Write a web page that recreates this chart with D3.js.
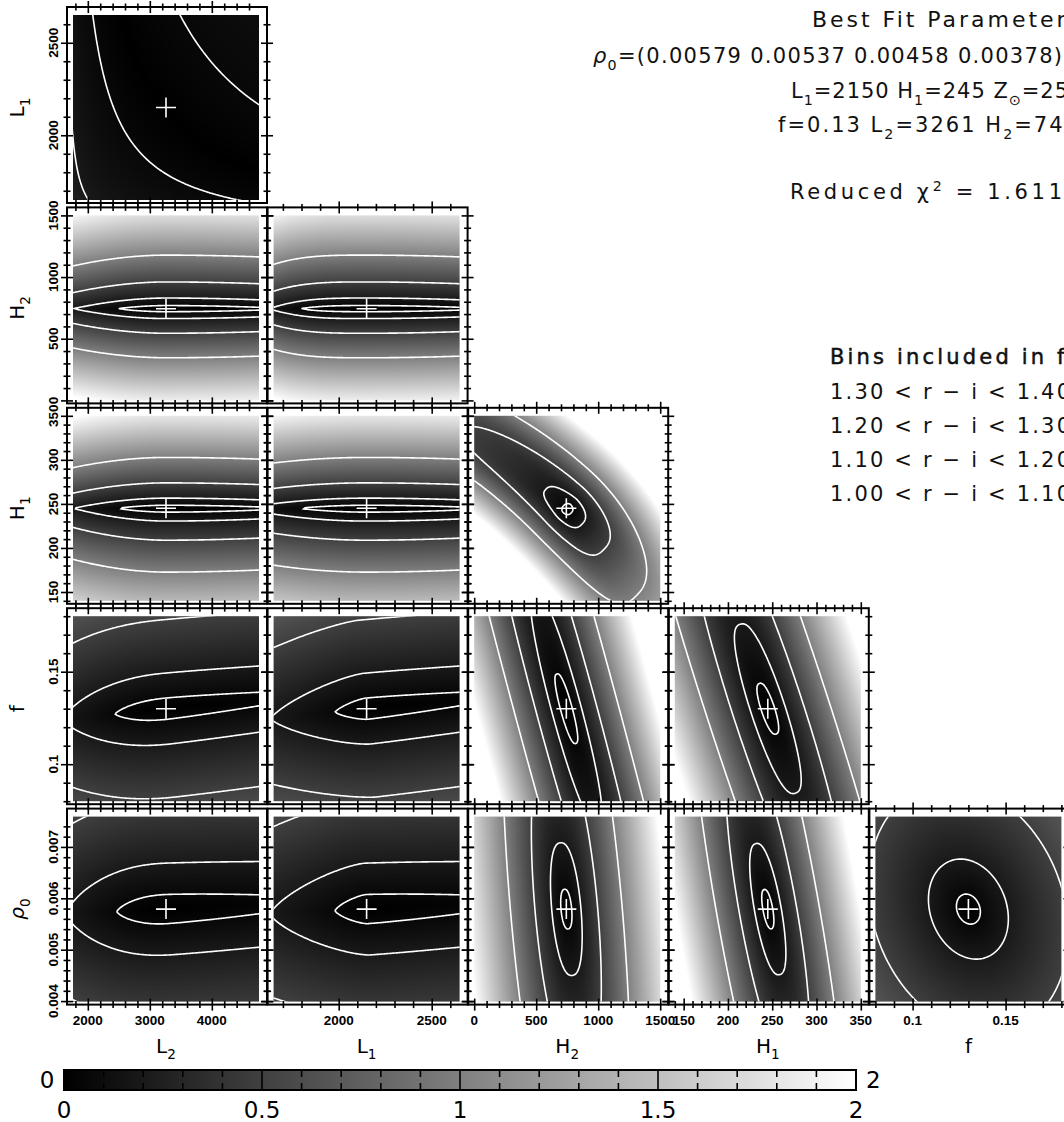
<!DOCTYPE html>
<html>
<head>
<meta charset="utf-8">
<script src="https://cdn.jsdelivr.net/npm/d3@7"></script>
<style>
  body { margin: 0; background: #fff; }
  svg { display: block; }
</style>
</head>
<body>
<script>
// ---------------------------------------------------------------
// Fit parameters (order: L2, L1, H2, H1, f, rho0)
// ---------------------------------------------------------------
const paramBest     = [3261, 2150, 743, 245, 0.13, 0.00579];
const paramHalfSpan = [1500, 500, 750, 105, 0.05, 0.0018];
const paramLo       = [1761, 1650, 0, 140, 0.08, 0.00399];
const paramHi       = [4761, 2650, 1500, 350, 0.18, 0.00759];
const paramMajor    = [1000, 500, 500, 50, 0.05, 0.001];
const paramLabel    = [["L", "2"], ["L", "1"], ["H", "2"], ["H", "1"], ["f", ""], ["\u03c1", "0"]];

// grid columns use params 0..4 on x, rows use params 1..5 on y
const columnParams = [0, 1, 2, 3, 4];
const rowParams    = [1, 2, 3, 4, 5];

// contour levels drawn on every surface
const contourLevels = [0.06, 0.2, 0.5, 1.0];

// L1-L2 panel: valley along (L2 - a)(L1 - b) = const
// row, col, alpha, beta, s0, sigma, q
const valleyShape = [0, 0, 1.1, 1.4, 0.406, 15.8, 0.9];

// Other panels:
// row, col, theta(deg), b0, lambda, kappa, sA+, sA-, qA+, qA-, sB+, sB-, qB, w1, w2, m
const panelShapes = [
  [1, 0,   0, 0, 0, 0, 6.0, 2.33, 1.9, 1.9, 0.58, 0.53, 1, 0, 0, 1],
  [1, 1,   0, 0, 0, 0, 6.0, 1.73, 1.9, 3.2, 0.58, 0.53, 1, 0, 0, 1],
  [2, 0,   0, 0, 0, 0, 6.0, 2.33, 1.9, 1.9, 0.55, 0.69, 1, 0, 0, 1],
  [2, 1,   0, 0, 0, 0, 6.0, 3.02, 1.9, 2.0, 0.55, 0.69, 1, 0, 0, 1],
  [2, 2, 135, 0, 0, 0.1, 4.4, 1.2, 0.6, 1, 0.43, 0.47, 1.39, 0, 0, 2],
  [3, 0,   6, 0, 0, 0, 31, 2.88, 1, 1.7, 1.92, 1.92, 1, 0, 0, 1.3],
  [3, 1,   6, 0, 0, 0, 31, 4.6, 1, 1.08, 1.92, 1.92, 1, 0, 0, 1.3],
  [3, 2, -75, 0, 0, 0, 6.5, 6.5, 1, 1, 0.55, 0.55, 1.3, 0, 0, 2],
  [3, 3, -72, 0, 0, 0, 4.8, 4.8, 1, 1, 0.65, 0.65, 1.28, 0, 0, 2],
  [4, 0,   3, 0, 0, 0, 31, 2.77, 1, 1.7, 2.3, 2.3, 1.05, 0, 0, 1.3],
  [4, 1,   3, 0, 0, 0, 31, 4.6, 1, 1.08, 2.3, 2.3, 1.05, 0, 0, 1.3],
  [4, 2, -85, 0, 0, 0, 3.6, 3.6, 1, 1, 0.6, 0.6, 1.2, 0, 0, 2],
  [4, 3, -80, 0, 0, 0, 3.6, 3.6, 1, 1, 0.55, 0.55, 1.2, 0, 0, 2],
  [4, 4, -70, 0, 0, 0, 2.78, 2.78, 1, 1, 2.05, 2.05, 1, 0, 0, 2]
];

// text block on the right
const rho0Bins    = ["0.00579", "0.00537", "0.00458", "0.00378"];
const binLower    = ["1.30", "1.20", "1.10", "1.00"];
const binUpper    = ["1.40", "1.30", "1.20", "1.10"];
const reducedChi2 = "1.611";
const zSun = 25;

// colour bar
const colorbarDomain = [0, 2];
const colorbarLabels = [0, 0.5, 1, 1.5, 2];

// ---------------------------------------------------------------
// Layout
// ---------------------------------------------------------------
const W = 1064, H = 1122;
const colX0 = 67, colPitch = 200.6, frameW = 200;
const rowY0 = 7, rowPitch = 200.4, frameH = 196;
const inset = { left: 6, right: 8, top: 8, bottom: 3 };

const svg = d3.select("body").append("svg")
  .attr("width", W).attr("height", H)
  .attr("viewBox", `0 0 ${W} ${H}`);
svg.append("rect").attr("width", W).attr("height", H).attr("fill", "#fff");
const defs = svg.append("defs");

const gray = d3.scaleLinear().domain(colorbarDomain).range([0, 255]).clamp(true);

function frameBox(r, c) {
  const fx = colX0 + c * colPitch, fy = rowY0 + r * rowPitch;
  return {
    fx, fy, fw: frameW, fh: frameH,
    ix: fx + inset.left, iy: fy + inset.top,
    iw: frameW - inset.left - inset.right, ih: frameH - inset.top - inset.bottom
  };
}
function paramScale(p, r0, r1) {
  return d3.scaleLinear().domain([paramLo[p], paramHi[p]]).range([r0, r1]);
}
function tickValues(p) {
  const lo = paramLo[p], hi = paramHi[p];
  const minor = paramMajor[p] / 5;
  const out = [];
  const k0 = Math.ceil(lo / minor - 1e-6), k1 = Math.floor(hi / minor + 1e-6);
  for (let k = k0; k <= k1; k++) out.push({ v: +(k * minor).toPrecision(8), major: ((k % 5) + 5) % 5 === 0 });
  return out;
}
function fmt(v) { return String(+v.toPrecision(6)); }

// surface models evaluated in normalised coordinates (u along x, w along y)
function valleySurface(s, u, w) {
  const X = Math.max(1e-3, u + s.alpha), Y = Math.max(1e-3, w + s.beta);
  const d = Math.log(X) + Math.log(Y) - s.s0;
  return Math.min(Math.pow(Math.abs(d) / s.sigma, s.q), 2.5);
}
function surface(s, u, w) {
  const th = s.theta * Math.PI / 180;
  const a = u * Math.cos(th) + w * Math.sin(th);
  let b = -u * Math.sin(th) + w * Math.cos(th);
  b = b - s.b0 - s.lambda * a - s.kappa * a * a;
  const va = a >= 0 ? Math.pow(a / s.sAp, s.qAp) : Math.pow(-a / s.sAm, s.qAm);
  const widen = Math.max(0.2, 1 + s.w1 * a + s.w2 * a * a);
  const sb = (b >= 0 ? s.sBp : s.sBm) * widen;
  const vb = Math.pow(Math.abs(b) / sb, s.qB);
  const v = Math.pow(Math.pow(va, s.m) + Math.pow(vb, s.m), 1 / s.m);
  return Math.min(v, 2.5);
}

// rich text helper: parts = [[text, mode, style]] with mode "", "sub", "sup"
function richText(sel, parts, size) {
  let shift = 0;
  parts.forEach(([t, mode, style]) => {
    const target = mode === "sub" ? 0.32 * size : mode === "sup" ? -0.38 * size : 0;
    const ts = sel.append("tspan").text(t).attr("dy", target - shift);
    if (mode) ts.attr("font-size", size * 0.68);
    if (style) ts.attr("font-style", style);
    shift = target;
  });
  return sel;
}

// ---------------------------------------------------------------
// Panels
// ---------------------------------------------------------------
const N = 150, PAD = 4, NG = N + 2 * PAD;
const panelLayer = svg.append("g");

const panels = [{
  r: valleyShape[0], c: valleyShape[1], kind: "valley",
  alpha: valleyShape[2], beta: valleyShape[3], s0: valleyShape[4], sigma: valleyShape[5], q: valleyShape[6]
}].concat(panelShapes.map(row => ({
  r: row[0], c: row[1], kind: "ridge", theta: row[2], b0: row[3], lambda: row[4], kappa: row[5],
  sAp: row[6], sAm: row[7], qAp: row[8], qAm: row[9],
  sBp: row[10], sBm: row[11], qB: row[12], w1: row[13], w2: row[14], m: row[15]
})));

panels.forEach((s, idx) => {
  const px = columnParams[s.c], py = rowParams[s.r];
  const box = frameBox(s.r, s.c);
  const xs = paramScale(px, box.ix, box.ix + box.iw);
  const ys = paramScale(py, box.iy + box.ih, box.iy);
  const cw = box.iw / N, ch = box.ih / N;
  const fn = s.kind === "valley" ? valleySurface : surface;

  // sample the surface on a padded grid
  const values = new Float64Array(NG * NG);
  for (let j = 0; j < NG; j++) {
    const yv = ys.invert(box.iy + (j - PAD + 0.5) * ch);
    const w = (yv - paramBest[py]) / paramHalfSpan[py];
    for (let i = 0; i < NG; i++) {
      const xv = xs.invert(box.ix + (i - PAD + 0.5) * cw);
      const u = (xv - paramBest[px]) / paramHalfSpan[px];
      values[j * NG + i] = fn(s, u, w);
    }
  }

  // greyscale raster
  const cv = document.createElement("canvas");
  cv.width = N; cv.height = N;
  const ctx = cv.getContext("2d");
  const img = ctx.createImageData(N, N);
  for (let j = 0; j < N; j++) for (let i = 0; i < N; i++) {
    const g = Math.round(gray(values[(j + PAD) * NG + i + PAD]));
    const k = (j * N + i) * 4;
    img.data[k] = img.data[k + 1] = img.data[k + 2] = g; img.data[k + 3] = 255;
  }
  ctx.putImageData(img, 0, 0);

  const g = panelLayer.append("g");
  g.append("image")
    .attr("href", cv.toDataURL())
    .attr("x", box.ix).attr("y", box.iy)
    .attr("width", box.iw).attr("height", box.ih)
    .attr("preserveAspectRatio", "none");

  // contour lines
  const clipId = `clip-${idx}`;
  defs.append("clipPath").attr("id", clipId).append("rect")
    .attr("x", box.ix).attr("y", box.iy).attr("width", box.iw).attr("height", box.ih);
  const proj = d3.geoTransform({
    point(x, y) { this.stream.point(box.ix + (x - PAD) * cw, box.iy + (y - PAD) * ch); }
  });
  const path = d3.geoPath(proj);
  const contours = d3.contours().size([NG, NG]).thresholds(contourLevels)(Array.from(values));
  g.append("g").attr("clip-path", `url(#${clipId})`)
    .selectAll("path").data(contours).join("path")
    .attr("d", path)
    .attr("fill", "none").attr("stroke", "#fff").attr("stroke-width", 1.6);

  // best-fit cross
  const cx = xs(paramBest[px]), cy = ys(paramBest[py]);
  g.append("path")
    .attr("d", `M${cx - 10},${cy}H${cx + 10}M${cx},${cy - 10}V${cy + 10}`)
    .attr("stroke", "#fff").attr("stroke-width", 1.6);

  // frame and ticks
  const axG = g.append("g").attr("stroke", "#000");
  axG.append("rect").attr("x", box.fx).attr("y", box.fy)
    .attr("width", box.fw).attr("height", box.fh)
    .attr("fill", "none").attr("stroke", "#000").attr("stroke-width", 2);

  const xt = tickValues(px), yt = tickValues(py);
  const centred = (sel, list, horiz) => {
    sel.select(".domain").remove();
    sel.selectAll(".tick text").remove();
    sel.selectAll(".tick line").each(function (d, i) {
      const L = list[i].major ? 6 : 3.5;
      const line = d3.select(this).attr("stroke", "#000").attr("stroke-width", 1.6);
      if (horiz) line.attr("y1", -L).attr("y2", L);
      else line.attr("x1", -L).attr("x2", L);
    });
  };
  [box.fy + box.fh, box.fy].forEach(yy => {
    axG.append("g").attr("transform", `translate(0,${yy})`)
      .call(d3.axisBottom(xs).tickValues(xt.map(d => d.v)).tickSize(4).tickFormat(""))
      .call(sel => centred(sel, xt, true));
  });
  [box.fx, box.fx + box.fw].forEach(xx => {
    axG.append("g").attr("transform", `translate(${xx},0)`)
      .call(d3.axisLeft(ys).tickValues(yt.map(d => d.v)).tickSize(4).tickFormat(""))
      .call(sel => centred(sel, yt, false));
  });

  // tick labels on outer edges
  if (s.r === 4) {
    g.append("g").selectAll("text").data(xt.filter(d => d.major)).join("text")
      .attr("x", d => xs(d.v)).attr("y", box.fy + box.fh + 20)
      .attr("text-anchor", "middle")
      .attr("font-family", "Liberation Sans, Arial, sans-serif")
      .attr("font-weight", "bold").attr("font-size", 13.5)
      .text(d => fmt(d.v));
  }
  if (s.c === 0) {
    g.append("g").selectAll("text").data(yt.filter(d => d.major)).join("text")
      .attr("transform", d => `translate(${box.fx - 9},${ys(d.v)}) rotate(-90)`)
      .attr("text-anchor", "middle")
      .attr("font-family", "Liberation Sans, Arial, sans-serif")
      .attr("font-weight", "bold").attr("font-size", 13.5)
      .text(d => fmt(d.v));
  }
});

// ---------------------------------------------------------------
// Axis titles
// ---------------------------------------------------------------
const titleFont = "DejaVu Sans, Verdana, sans-serif";
columnParams.forEach((p, c) => {
  const box = frameBox(4, c);
  const t = svg.append("text")
    .attr("x", box.ix + box.iw / 2).attr("y", 1053)
    .attr("text-anchor", "middle")
    .attr("font-family", titleFont).attr("font-size", 20);
  richText(t, [[paramLabel[p][0], "", p === 5 ? "italic" : null], [paramLabel[p][1], "sub"]], 20);
});
rowParams.forEach((p, r) => {
  const box = frameBox(r, 0);
  const t = svg.append("text")
    .attr("transform", `translate(24,${box.iy + box.ih / 2}) rotate(-90)`)
    .attr("text-anchor", "middle")
    .attr("font-family", titleFont).attr("font-size", 20);
  richText(t, [[paramLabel[p][0], "", p === 5 ? "italic" : null], [paramLabel[p][1], "sub"]], 20);
});

// ---------------------------------------------------------------
// Fit summary text
// ---------------------------------------------------------------
function infoLine(x, y, size, span, parts, extra) {
  const t = svg.append("text").attr("x", x).attr("y", y)
    .attr("font-family", titleFont).attr("font-size", size)
    .attr("textLength", span).attr("lengthAdjust", "spacing")
    .attr("fill", "#111");
  if (extra) extra(t);
  return richText(t, parts, size);
}
infoLine(812, 27, 22, 268, [["Best Fit Parameters", ""]]);
infoLine(593, 63, 21, 469, [["\u03c1", "", "italic"], ["0", "sub"], ["=(" + rho0Bins.join(" ") + ")", ""]]);
infoLine(791, 98, 21, 277, [["L", ""], ["1", "sub"], [`=${paramBest[1]} H`, ""], ["1", "sub"], [`=${paramBest[3]} Z`, ""], ["\u2299", "sub"], [`=${zSun}`, ""]]);
infoLine(778, 132, 21, 300, [[`f=${paramBest[4]} L`, ""], ["2", "sub"], [`=${paramBest[0]} H`, ""], ["2", "sub"], [`=${paramBest[2]}`, ""]]);
infoLine(790, 199, 21, 272, [["Reduced \u03c7", ""], ["2", "sup"], [" = " + reducedChi2, ""]]);
infoLine(830, 364, 21, 262, [["Bins included in fit:", ""]],
  t => t.attr("stroke", "#111").attr("stroke-width", 0.5));
binLower.forEach((lo, i) => {
  infoLine(830, 399 + i * 34, 21, 240, [[`${lo} < r \u2212 i < ${binUpper[i]}`, ""]]);
});

// ---------------------------------------------------------------
// Colour bar
// ---------------------------------------------------------------
const cb = d3.scaleLinear().domain(colorbarDomain).range([64, 856]);
const cbY = 1070, cbH = 20;
const grad = defs.append("linearGradient").attr("id", "cbgrad");
grad.append("stop").attr("offset", "0%").attr("stop-color", d3.rgb(gray(0), gray(0), gray(0)));
grad.append("stop").attr("offset", "100%").attr("stop-color", d3.rgb(gray(2), gray(2), gray(2)));
svg.append("rect").attr("x", cb(0)).attr("y", cbY).attr("width", cb(2) - cb(0)).attr("height", cbH)
  .attr("fill", "url(#cbgrad)");
const cbTicks = d3.range(1, 20).map(k => k / 10);
svg.append("g").selectAll("path").data(cbTicks).join("path")
  .attr("d", d => Math.abs(d * 2 - Math.round(d * 2)) < 1e-6
    ? `M${cb(d)},${cbY}V${cbY + cbH}`
    : `M${cb(d)},${cbY}v7M${cb(d)},${cbY + cbH}v-7`)
  .attr("stroke", "#000").attr("stroke-width", 1.6);
svg.append("rect").attr("x", cb(0)).attr("y", cbY).attr("width", cb(2) - cb(0)).attr("height", cbH)
  .attr("fill", "none").attr("stroke", "#000").attr("stroke-width", 2);
svg.append("text").attr("x", 47).attr("y", cbY + 18).attr("text-anchor", "middle")
  .attr("font-family", titleFont).attr("font-size", 23).text(fmt(colorbarDomain[0]));
svg.append("text").attr("x", 866).attr("y", cbY + 18)
  .attr("font-family", titleFont).attr("font-size", 23).text(fmt(colorbarDomain[1]));
svg.append("g").selectAll("text").data(colorbarLabels).join("text")
  .attr("x", d => cb(d)).attr("y", 1118).attr("text-anchor", "middle")
  .attr("font-family", titleFont).attr("font-size", 23).text(d => fmt(d));
</script>
</body>
</html>
